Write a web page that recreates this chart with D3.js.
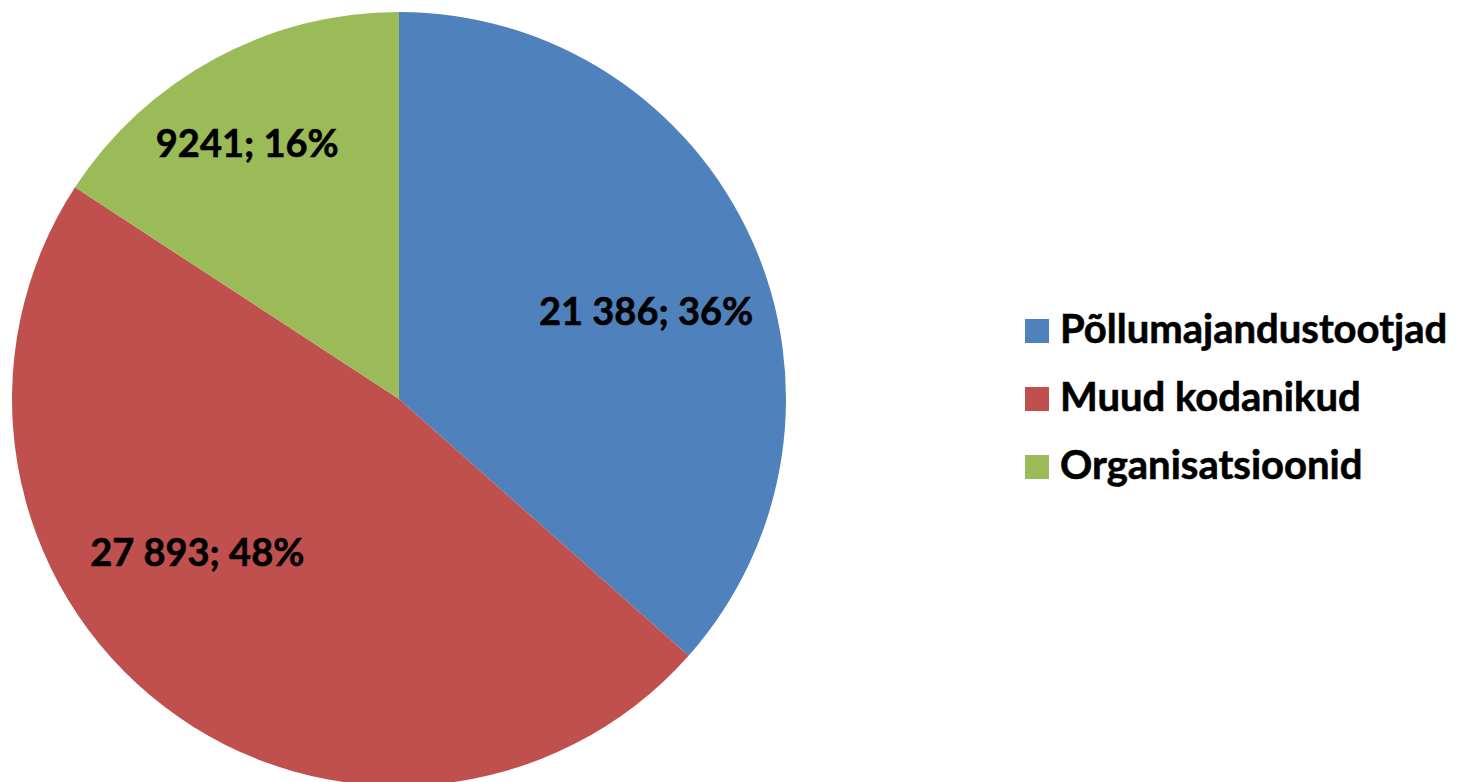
<!DOCTYPE html>
<html>
<head>
<meta charset="utf-8">
<script src="https://cdn.jsdelivr.net/npm/d3@7/dist/d3.min.js"></script>
<style>
  html, body { margin: 0; padding: 0; background: #fff; }
  svg { display: block; }
  text { font-family: Lato, "Open Sans", sans-serif; font-weight: bold; fill: #000; }
</style>
</head>
<body>
<svg id="chart" width="1459" height="782"></svg>
<script>
const categories = ["Põllumajandustootjad", "Muud kodanikud", "Organisatsioonid"];
const values = [21386, 27893, 9241];
const valueLabels = ["21 386", "27 893", "9241"];
const percentLabels = ["36%", "48%", "16%"];
const colors = ["#4F81BD", "#C0504D", "#9BBB59"];

const svg = d3.select("#chart");
const cx = 399, cy = 399, R = 387;

const data = categories.map((c, i) => ({ name: c, value: values[i], i }));
const pie = d3.pie().sort(null).value(d => d.value).startAngle(0).endAngle(2 * Math.PI);
const arcs = pie(data);
const arc = d3.arc().innerRadius(0).outerRadius(R);
const labelArc = d3.arc().innerRadius(260).outerRadius(260);

const g = svg.append("g").attr("transform", `translate(${cx},${cy})`);
g.selectAll("path").data(arcs).join("path")
  .attr("d", arc)
  .attr("fill", d => colors[d.data.i]);

// label placement adjustments (best-fit style) relative to centroid
const labelOffsets = [[10, 33], [-44, -40], [-28, -13]];
g.selectAll("text.lbl").data(arcs).join("text")
  .attr("class", "lbl")
  .attr("text-anchor", "middle")
  .attr("font-size", 38)
  .attr("stroke", "#000").attr("stroke-width", 0.6)
  .attr("x", d => labelArc.centroid(d)[0] + labelOffsets[d.data.i][0])
  .attr("y", d => labelArc.centroid(d)[1] + labelOffsets[d.data.i][1])
  .text(d => `${valueLabels[d.data.i]}; ${percentLabels[d.data.i]}`);

// legend
const legend = svg.append("g").attr("transform", "translate(1025,319)");
const rows = legend.selectAll("g").data(categories).join("g")
  .attr("transform", (d, i) => `translate(0,${i * 68})`);
rows.append("rect").attr("width", 24).attr("height", 24).attr("fill", (d, i) => colors[i]);
rows.append("text").attr("x", 35).attr("y", 24).attr("font-size", 40)
  .attr("stroke", "#000").attr("stroke-width", 0.6).text(d => d);
</script>
</body>
</html>
